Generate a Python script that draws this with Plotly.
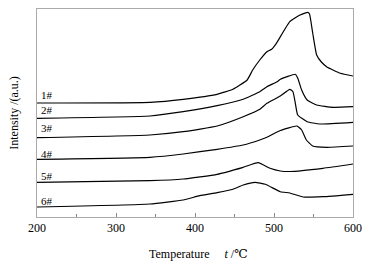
import plotly.graph_objects as go

# Temperatures (°C) and intensities (a.u., offset stacked)
t1 = [200, 343, 385, 428, 448, 466, 473, 482, 491, 497, 503, 520, 533, 543, 545, 549, 554, 560, 567, 584, 600]
i1 = [114, 114.7, 117.7, 122.7, 127.7, 137, 147, 157, 165.3, 167.7, 173.7, 195.3, 202, 204.7, 203, 184, 162, 155, 150, 143.7, 141]

t2 = [200, 343, 385, 428, 461, 482, 491, 504, 508, 527, 530, 535, 542, 554, 575, 600]
i2 = [98.7, 101, 105.3, 111.3, 117.7, 125.3, 130.3, 135.3, 137.7, 142.7, 139, 127, 117, 112, 109.7, 110.3]

t3 = [200, 343, 385, 428, 461, 482, 491, 508, 520, 524, 527, 530, 542, 558, 600]
i3 = [79.3, 82, 85.3, 91, 100.3, 107.7, 113.7, 121, 127.7, 125.3, 113.7, 102, 95.3, 93, 94.7]

t4 = [200, 343, 385, 428, 461, 482, 491, 508, 529, 535, 541, 549, 567, 600]
i4 = [57.7, 59.7, 63, 67.7, 72, 77, 79.7, 86.5, 91, 87, 77, 71, 69.7, 71]

t5 = [200, 343, 385, 428, 461, 480, 495, 508, 520, 562, 600]
i5 = [34.7, 36.3, 38, 42.7, 49.7, 54.3, 48.7, 46, 45.5, 48.7, 53]

t6 = [200, 343, 385, 406, 428, 448, 461, 476, 489, 508, 520, 537, 562, 600]
i6 = [10, 13, 17, 21.3, 24.3, 27.7, 32, 34.7, 32.7, 25.3, 24, 20, 20.3, 22.7]

series = [(t1, i1), (t2, i2), (t3, i3), (t4, i4), (t5, i5), (t6, i6)]
labels = ["1#", "2#", "3#", "4#", "5#", "6#"]
label_y = [122, 107, 89, 63, 41, 16]

SERIF = "Liberation Serif, Times New Roman, DejaVu Serif, serif"

fig = go.Figure()
for (t, v) in series:
    fig.add_trace(go.Scatter(x=t, y=v, mode="lines",
                             line=dict(color="black", width=1.2, shape="spline", smoothing=0.4),
                             showlegend=False, hoverinfo="skip"))

for lab, ly in zip(labels, label_y):
    fig.add_annotation(x=203, y=ly, text=lab, showarrow=False, xanchor="left", yanchor="middle",
                       font=dict(family=SERIF, size=11, color="black"))

fig.add_annotation(xref="paper", yref="paper", x=0.51, y=-0.135, yanchor="top", showarrow=False,
                   text="Temperature&nbsp;&nbsp;&nbsp;&nbsp;&nbsp;<i>t</i> /℃",
                   font=dict(family=SERIF, size=12, color="black"))
fig.add_annotation(xref="paper", yref="paper", x=-0.045, y=0.5, xanchor="right", yanchor="middle",
                   showarrow=False, textangle=-90, text="Intensity /(a.u.)",
                   font=dict(family=SERIF, size=12, color="black"))

fig.update_layout(
    width=390, height=262,
    margin=dict(l=37, r=37, t=9, b=45, autoexpand=False),
    paper_bgcolor="white", plot_bgcolor="white",
    font=dict(family=SERIF, size=12, color="black"),
    xaxis=dict(range=[200, 600], tickmode="array", tickvals=[200, 300, 400, 500, 600],
               ticks="inside", ticklen=4, tickcolor="#888", showgrid=False, zeroline=False,
               showline=True, linecolor="#aaa", linewidth=1, mirror=True, automargin=False,
               minor=dict(tickvals=[250, 350, 450, 550], ticks="inside", ticklen=3, tickcolor="#888"),
               tickfont=dict(family=SERIF, size=12, color="black")),
    yaxis=dict(range=[0, 208], showticklabels=False, ticks="", showgrid=False, zeroline=False,
               showline=True, linecolor="#aaa", linewidth=1, mirror=True, automargin=False),
)

fig.write_html("out.html", config={"displayModeBar": False},
               post_script="document.body.style.margin='0';document.body.style.overflow='hidden';")
